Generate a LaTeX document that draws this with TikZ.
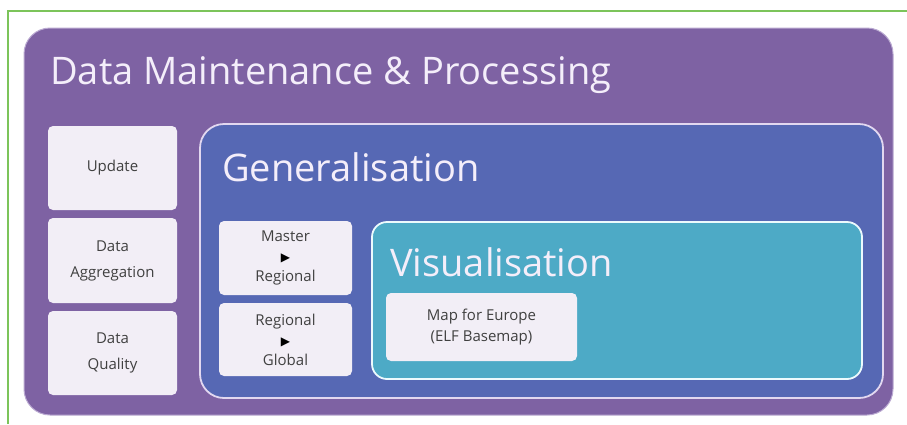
\documentclass[tikz,border=0pt]{standalone}
\usepackage{fontspec}
\setmainfont{Open Sans}
\newfontfamily\symfont{DejaVu Sans}
\definecolor{outerP}{HTML}{7E62A3}
\definecolor{genB}{HTML}{5668B4}
\definecolor{visT}{HTML}{4DAAC6}
\definecolor{boxF}{HTML}{F2EEF6}
\definecolor{edgeL}{HTML}{E2D8F0}
\definecolor{frameG}{HTML}{7CC45A}
\definecolor{txtG}{HTML}{404040}
\definecolor{titleW}{HTML}{F4EEFA}
\begin{document}
\begin{tikzpicture}[x=1pt,y=-1pt,
  smallbox/.style={draw=none,fill=boxF,rounded corners=5pt,text=txtG,align=center,inner sep=0pt},
  lefttxt/.style={font=\fontsize{15}{26}\selectfont},
  gentxt/.style={font=\fontsize{15}{20}\selectfont},
  titletxt/.style={anchor=base west,text=titleW,inner sep=0pt,font=\fontsize{38}{44}\selectfont}]
\useasboundingbox (0,0) rectangle (907,424);
\fill[white] (0,0) rectangle (907,424);
\draw[frameG,line width=1.2pt] (8,424) -- (8,11) -- (907,11);
% outer
\path[fill=outerP,draw=edgeL!60!outerP,line width=1pt,rounded corners=26pt] (24,28) rectangle (893,415);
\node[titletxt] (t1) at (50,84) {Data Maintenance \& Processing};
% left boxes
\node[smallbox,lefttxt,minimum width=129pt,minimum height=84pt] (upd) at (112.5,168) {Update};
\node[smallbox,lefttxt,minimum width=129pt,minimum height=85pt] (agg) at (112.5,260.5) {Data\\Aggregation};
\node[smallbox,lefttxt,minimum width=129pt,minimum height=84pt] (qua) at (112.5,353) {Data\\Quality};
% generalisation
\path[fill=genB,draw=edgeL,line width=1.8pt,rounded corners=24pt] (200,124) rectangle (883,398);
\node[titletxt] (t2) at (222,181) {Generalisation};
\node[smallbox,gentxt,minimum width=133pt,minimum height=74pt] (mr) at (285.5,258) {Master\\{\symfont\fontsize{12}{20}\selectfont\color{black}▶}\\Regional};
\node[smallbox,gentxt,minimum width=133pt,minimum height=73pt] (rg) at (285.5,339.5) {Regional\\{\symfont\fontsize{12}{20}\selectfont\color{black}▶}\\Global};
% visualisation
\path[fill=visT,draw=edgeL!70!cyan!20!white,line width=1.8pt,rounded corners=15pt] (372,222) rectangle (862,379);
\node[titletxt] (t3) at (390,276) {Visualisation};
\node[smallbox,font=\fontsize{15}{21}\selectfont,minimum width=191pt,minimum height=68pt] (map) at (481.5,327) {Map for Europe\\(ELF Basemap)};
\end{tikzpicture}
\end{document}
